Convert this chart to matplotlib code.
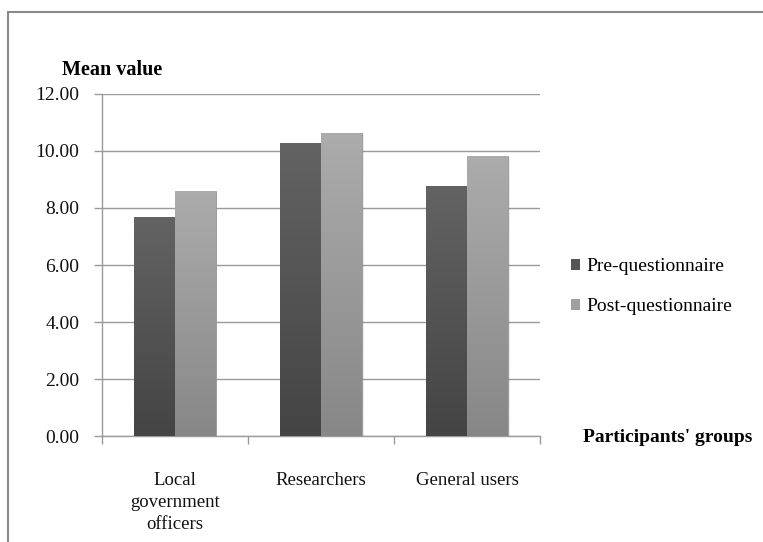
import numpy as np
import matplotlib
matplotlib.use("Agg")
import matplotlib.pyplot as plt
from matplotlib.lines import Line2D
from matplotlib.patches import Patch
from matplotlib.colors import LinearSegmentedColormap
from matplotlib.ticker import FormatStrFormatter, FixedLocator

plt.rcParams['font.family'] = ['Liberation Serif', 'DejaVu Serif']

categories = ["Local\ngovernment\nofficers", "Researchers", "General users"]
series_names = ["Pre-questionnaire", "Post-questionnaire"]
pre_values = [7.67, 10.27, 8.76]
post_values = [8.60, 10.64, 9.83]
y_ticks = [0, 2, 4, 6, 8, 10, 12]

# gradient colours (top, bottom) for each series
pre_grad = ("#636363", "#444444")
post_grad = ("#acacac", "#878787")
grid_col = "#9a9a9a"

W, H = 763, 542
fig = plt.figure(figsize=(W / 100, H / 100), dpi=100)
ax = fig.add_axes([101.7 / W, 1 - 436.3 / H, (540 - 101.7) / W, (436.3 - 93.7) / H])

x = np.arange(len(categories))
bw = 0.28
bars_pre = ax.bar(x - bw / 2, pre_values, bw, color=pre_grad[1], zorder=3,
                  edgecolor="#555555", linewidth=0.6, label=series_names[0])
bars_post = ax.bar(x + bw / 2, post_values, bw, color=post_grad[1], zorder=3,
                   edgecolor="#999999", linewidth=0.6, label=series_names[1])


def shade(bars, top, bottom):
    cmap = LinearSegmentedColormap.from_list("g", [bottom, top])
    grad = np.linspace(0, 1, 256).reshape(-1, 1)
    for b in bars:
        x0, y0 = b.get_x(), b.get_y()
        x1, y1 = x0 + b.get_width(), y0 + b.get_height()
        # faint shadow to the right of the bar
        ax.add_patch(plt.Rectangle((x1, y0), 0.012, y1 - y0 - 0.05,
                                   color="#000000", alpha=0.08, lw=0, zorder=2))
        im = ax.imshow(grad, extent=(x0, x1, y0, y1), origin="lower",
                       cmap=cmap, aspect="auto", zorder=3.5)
        im.set_clip_path(b)


shade(bars_pre, *pre_grad)
shade(bars_post, *post_grad)
ax.set_xlim(-0.5, len(categories) - 0.5)
ax.set_ylim(0, 12)

# grid
ax.set_yticks(y_ticks)
ax.yaxis.set_major_formatter(FormatStrFormatter("%.2f"))
ax.grid(axis="y", color=grid_col, linewidth=1.0, zorder=0)
ax.set_axisbelow(True)

for s in ["top", "right"]:
    ax.spines[s].set_visible(False)
for s in ["left", "bottom"]:
    ax.spines[s].set_color(grid_col)
    ax.spines[s].set_linewidth(1.0)

ax.tick_params(axis="y", length=6, width=1.0, color=grid_col, pad=10,
               labelsize=14, labelcolor="#111111")
ax.set_xticks(x)
ax.set_xticklabels(categories, fontsize=13.5, color="#111111", linespacing=1.38)
ax.tick_params(axis="x", which="major", length=0, pad=25.5)
ax.xaxis.set_minor_locator(FixedLocator(np.arange(len(categories) + 1) - 0.5))
ax.tick_params(axis="x", which="minor", length=6, width=1.0, color=grid_col)

fig.text(62 / W, 1 - 70 / H, "Mean value", fontsize=14.5, fontweight="bold",
         ha="left", va="center")
fig.text(583 / W, 1 - 437 / H, "Participants' groups", fontsize=14,
         fontweight="bold", ha="left", va="center")

handles = [Patch(facecolor="#555555", edgecolor="none"),
           Patch(facecolor="#a0a0a0", edgecolor="none")]
fig.legend(handles, series_names, loc="upper left",
           bbox_to_anchor=(571 / W, 1 - 258 / H), frameon=False,
           fontsize=14, handlelength=0.48, handleheight=0.48,
           handletextpad=0.33, labelspacing=1.2, borderpad=0, borderaxespad=0)

# outer frame
fig.add_artist(Line2D([8 / W, 8 / W], [0, 1 - 12 / H], color="#8a8a8a", lw=1.5))
fig.add_artist(Line2D([8 / W, 1], [1 - 12 / H, 1 - 12 / H], color="#8a8a8a", lw=1.5))

fig.savefig("out.png", dpi=100)
